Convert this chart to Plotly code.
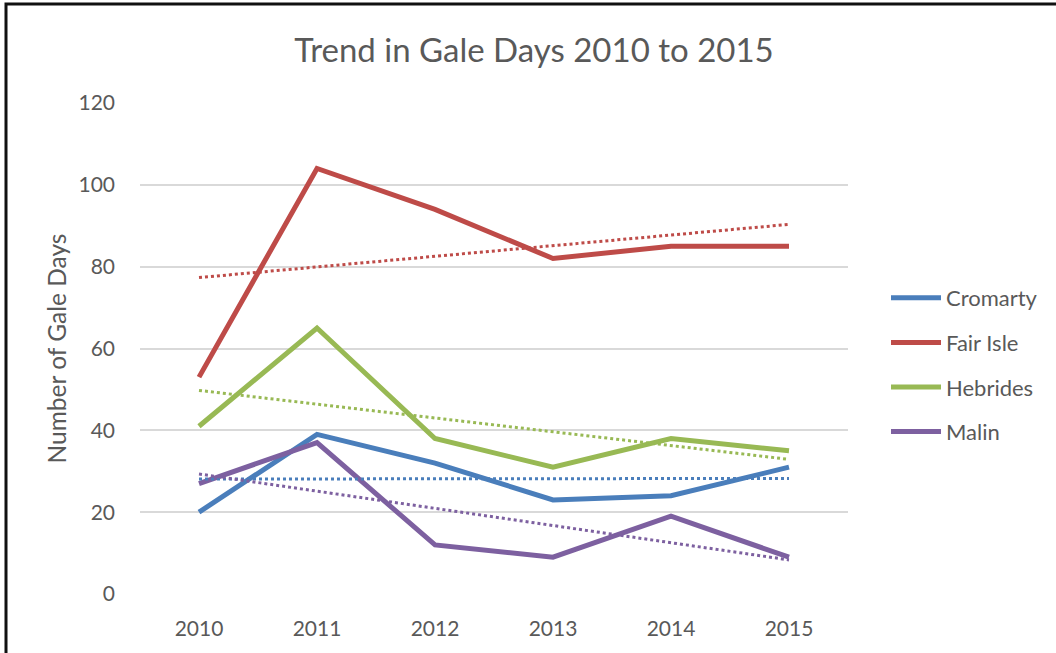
import numpy as np
import plotly.graph_objects as go

years = ["2010", "2011", "2012", "2013", "2014", "2015"]
cromarty = [20, 39, 32, 23, 24, 31]
fair_isle = [53, 104, 94, 82, 85, 85]
hebrides = [41, 65, 38, 31, 38, 35]
malin = [27, 37, 12, 9, 19, 9]

series = [
    ("Cromarty", cromarty, "#4a7ebb"),
    ("Fair Isle", fair_isle, "#be4b48"),
    ("Hebrides", hebrides, "#98b954"),
    ("Malin", malin, "#7d60a0"),
]

FONT = "Lato, 'Open Sans', sans-serif"
fig = go.Figure()
xi = np.arange(len(years))
for name, vals, col in series:
    fig.add_trace(go.Scatter(x=years, y=vals, mode="lines", name=name,
                             legendgroup=name,
                             line=dict(color=col, width=5)))
for name, vals, col in series:
    slope, icpt = np.polyfit(xi, vals, 1)
    trend = slope * xi + icpt
    fig.add_trace(go.Scatter(x=years, y=trend, mode="lines", showlegend=False,
                             hoverinfo="skip",
                             line=dict(color=col, width=3, dash="dot")))

L, R, T, B = 140, 848, 103, 594
W, H = 1056, 653
def px(x): return (x - L) / (R - L)
def py(y): return (B - y) / (B - T)

fig.update_layout(
    width=W, height=H,
    margin=dict(l=L, r=W - R, t=T, b=H - B),
    paper_bgcolor="white", plot_bgcolor="white",
    font=dict(family=FONT, color="#595959", size=21),
    title=dict(text="Trend in Gale Days 2010 to 2015", x=534 / W, xanchor="center",
               y=1 - 50 / H, yanchor="middle",
               font=dict(size=33, color="#595959", family=FONT)),
    xaxis=dict(type="category", range=[-0.5, 5.5], showgrid=False, zeroline=False,
               showline=False, ticks="", tickfont=dict(size=21), ticklabelstandoff=20),
    yaxis=dict(range=[0, 120], dtick=20, showgrid=True, gridcolor="#d9d9d9", gridwidth=1.5,
               zeroline=False, showline=False, ticks="", tickfont=dict(size=21),
               ticklabelstandoff=24,
               title=dict(text="Number of Gale Days", font=dict(size=24.5), standoff=4)),
    legend=dict(x=px(886), xanchor="left", y=py(277), yanchor="top",
                font=dict(size=22), tracegroupgap=13, itemwidth=50,
                bgcolor="rgba(0,0,0,0)"),
    showlegend=True,
)
fig.add_shape(type="rect", xref="paper", yref="paper",
              x0=px(6), x1=px(1070), y0=py(4), y1=py(670),
              line=dict(color="#111111", width=3), fillcolor="rgba(0,0,0,0)", layer="above")
fig.write_html("out.html", config={"displayModeBar": False},
               post_script="document.body.style.margin='0';document.body.style.overflow='hidden';")
